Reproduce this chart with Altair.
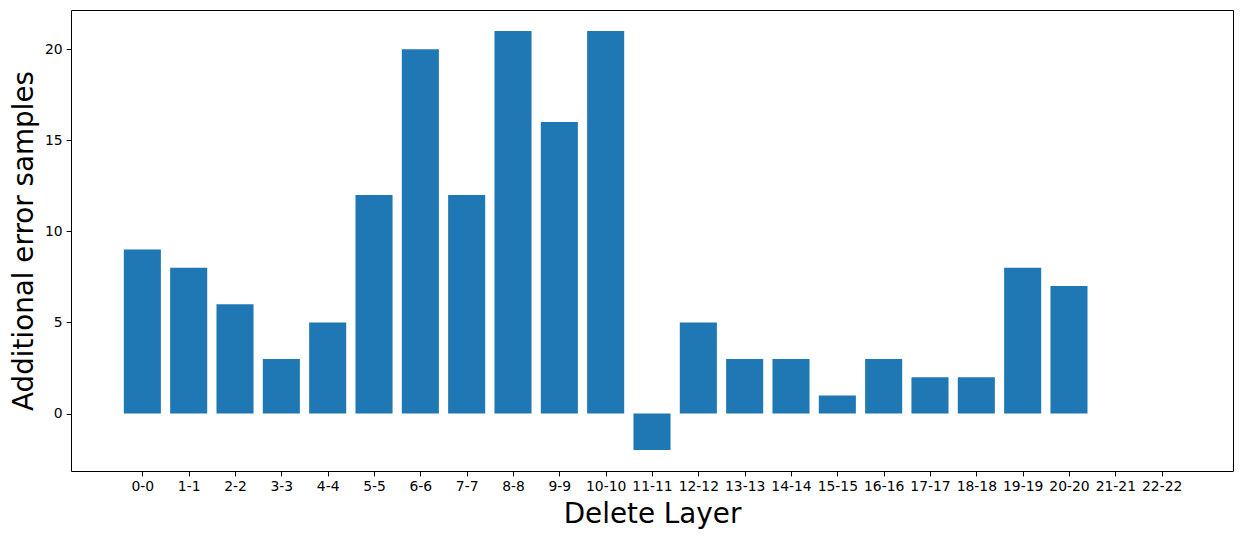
import json
import altair as alt
import pandas as pd

layers = [f"{i}-{i}" for i in range(23)]
errors = [9, 8, 6, 3, 5, 12, 20, 12, 21, 16, 21, -2, 5, 3, 3, 1, 3, 2, 2, 8, 7, 0, 0]
y_ticks = [0, 5, 10, 15, 20]

df = pd.DataFrame({"idx": list(range(len(layers))), "layer": layers, "errors": errors})

label_expr = json.dumps(layers) + "[datum.value]"

chart = alt.Chart(df).transform_calculate(
    x0="datum.idx - 0.4", x1="datum.idx + 0.4"
).mark_bar(color="#1f77b4").encode(
    x=alt.X(
        "x0:Q",
        scale=alt.Scale(domain=[-1.54, 23.54], nice=False, zero=False),
        axis=alt.Axis(
            title="Delete Layer",
            values=list(range(len(layers))),
            labelExpr=label_expr,
            labelAngle=0,
            titlePadding=7,
        ),
    ),
    x2="x1:Q",
    y=alt.Y(
        "errors:Q",
        scale=alt.Scale(domain=[-3.15, 22.15], nice=False, zero=False),
        axis=alt.Axis(title="Additional error samples", values=y_ticks, titlePadding=6),
    ),
    y2=alt.datum(0),
).properties(
    width=1162,
    height=461,
    autosize=alt.AutoSizeParams(type="none"),
    padding={"left": 63, "top": 2, "right": 2, "bottom": 60},
).configure_view(
    stroke="black", strokeWidth=1
).configure_axis(
    domain=False,
    grid=False,
    labelFont="DejaVu Sans",
    labelFontSize=13.9,
    labelColor="black",
    labelFlush=False,
    labelOverlap=False,
    tickColor="black",
    tickSize=4.9,
    tickWidth=1,
    labelPadding=4,
    titleFont="DejaVu Sans",
    titleFontSize=27.8,
    titleFontWeight="normal",
    titleColor="black",
)

chart.save("out.html", embed_options={"renderer": "svg", "actions": False})
